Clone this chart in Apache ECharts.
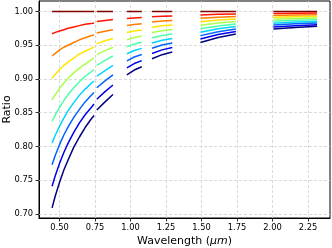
<!DOCTYPE html>
<html>
<head>
<meta charset="utf-8">
<script src="https://cdn.jsdelivr.net/npm/echarts@6/dist/echarts.min.js"></script>
<style>html,body{margin:0;padding:0;background:#fff}#c{width:332px;height:248px}</style>
</head>
<body>
<div id="c"></div>
<script>
// Wavelength samples (µm); entries where line values are null mark gaps between bands
const wavelengths = [0.447,0.47,0.50,0.53,0.56,0.60,0.64,0.68,0.72,0.743, 0.752,
  0.762,0.82,0.876, 0.92,
  0.974,1.026,1.079, 1.11,
  1.151,1.222,1.294, 1.40,
  1.492,1.617,1.742, 1.87,
  2.006,2.16,2.314];

const line0 = [1,1,1,1,1,1,1,1,1,1,null, 1,1,1,null, 1,1,1,null, 1,1,1,null, 1,1,1,null, 1,1,1];
const line1 = [0.967,0.969,0.971,0.973,0.975,0.977,0.979,0.981,0.982,0.983,null, 0.985,0.9867,0.988,null, 0.9896,0.9904,0.9909,null, 0.9922,0.9929,0.9933,null, 0.9949,0.9957,0.9963,null, 0.9971,0.9974,0.9976];
const line2 = [0.934,0.938,0.943,0.947,0.950,0.954,0.958,0.961,0.964,0.965,null, 0.968,0.9708,0.973,null, 0.9791,0.9807,0.9818,null, 0.9844,0.9858,0.9867,null, 0.9898,0.9915,0.9926,null, 0.9942,0.9948,0.9951];
const line3 = [0.901,0.907,0.914,0.920,0.925,0.931,0.937,0.941,0.945,0.948,null, 0.952,0.9565,0.960,null, 0.9687,0.9711,0.9727,null, 0.9767,0.9787,0.9800,null, 0.9847,0.9872,0.9888,null, 0.9913,0.9921,0.9927];
const line4 = [0.869,0.877,0.886,0.894,0.901,0.909,0.916,0.922,0.928,0.931,null, 0.936,0.942,0.947,null, 0.9582,0.9614,0.9636,null, 0.9689,0.9715,0.9733,null, 0.9796,0.9829,0.9851,null, 0.9884,0.9895,0.9902];
const line5 = [0.837,0.847,0.858,0.868,0.877,0.887,0.896,0.904,0.910,0.914,null, 0.920,0.9275,0.934,null, 0.9478,0.9518,0.9545,null, 0.9611,0.9645,0.9667,null, 0.9744,0.9786,0.9814,null, 0.9856,0.9869,0.9878];
const line6 = [0.805,0.817,0.830,0.842,0.853,0.865,0.876,0.885,0.893,0.897,null, 0.904,0.9125,0.920,null, 0.9373,0.9421,0.9453,null, 0.9533,0.9573,0.9600,null, 0.9693,0.9743,0.9777,null, 0.9827,0.9843,0.9853];
const line7 = [0.773,0.787,0.803,0.817,0.829,0.843,0.855,0.866,0.875,0.880,null, 0.887,0.8972,0.906,null, 0.9269,0.9325,0.9362,null, 0.9456,0.9502,0.9533,null, 0.9642,0.9701,0.9740,null, 0.9798,0.9817,0.9829];
const line8 = [0.741,0.757,0.775,0.791,0.805,0.821,0.835,0.847,0.857,0.863,null, 0.870,0.8812,0.891,null, 0.9164,0.9228,0.9271,null, 0.9378,0.9431,0.9467,null, 0.9591,0.9658,0.9702,null, 0.9769,0.9790,0.9804];
const line9 = [0.709,0.727,0.747,0.765,0.780,0.799,0.814,0.828,0.840,0.846,null, 0.854,0.866,0.877,null, 0.906,0.9132,0.918,null, 0.930,0.936,0.940,null, 0.954,0.9615,0.9665,null, 0.974,0.9764,0.978];

const lines = [line0,line1,line2,line3,line4,line5,line6,line7,line8,line9];
const colors = ['#800000','#ff1400','#ff7d00','#ffe600','#a9ff4e','#4effa9','#00d4ff','#0063ff','#0000f1','#000080'];

const xTicks = [0.50,0.75,1.00,1.25,1.50,1.75,2.00,2.25];
const yTicks = [0.70,0.75,0.80,0.85,0.90,0.95,1.00];

const chart = echarts.init(document.getElementById('c'), null, {renderer:'canvas'});
const font = 'DejaVu Sans';
const gridStyle = {color: '#d0d0d0', width: 0.8, type: [3, 2]};
chart.setOption({
  animation: false,
  backgroundColor: '#fff',
  grid: {left: 39, right: 2, top: 1, bottom: 30, containLabel: false, outerBoundsMode: 'none',
    show: true, borderColor: '#000', borderWidth: 1, backgroundColor: 'transparent'},
  xAxis: {
    type: 'value', min: 0.355, max: 2.405,
    name: '{a|Wavelength (}{b|μm}{a|)}', nameLocation: 'middle', nameGap: 18, nameMoveOverlap: false,
    nameTextStyle: {rich: {a: {fontFamily: font, fontSize: 11, color: '#000'}, b: {fontFamily: font, fontSize: 11, fontStyle: 'italic', color: '#000'}}},
    axisLine: {show: true, onZero: false, lineStyle: {color: '#000', width: 1}},
    axisTick: {show: true, inside: false, length: 3.5, customValues: xTicks, lineStyle: {color: '#000', width: 0.8}},
    axisLabel: {show: true, margin: 6, fontFamily: font, fontSize: 8.3, color: '#000', customValues: xTicks,
      formatter: v => v.toFixed(2)},
    splitLine: {show: false}
  },
  yAxis: {
    type: 'value', min: 0.694, max: 1.0155,
    name: 'Ratio', nameLocation: 'middle', nameGap: 26, nameRotate: 90, nameMoveOverlap: false,
    nameTextStyle: {fontFamily: font, fontSize: 11, color: '#000', padding: 0},
    axisLine: {show: true, onZero: false, lineStyle: {color: '#000', width: 1}},
    axisTick: {show: true, inside: false, length: 3.5, customValues: yTicks, lineStyle: {color: '#000', width: 0.8}},
    axisLabel: {show: true, margin: 6, fontFamily: font, fontSize: 8.3, color: '#000', customValues: yTicks,
      formatter: v => v.toFixed(2)},
    splitLine: {show: false}
  },
  series: [{
    type: 'line', data: [], silent: true, z: 1,
    markLine: {
      silent: true, symbol: 'none', label: {show: false}, animation: false, z: 1,
      lineStyle: gridStyle,
      data: xTicks.map(v => ({xAxis: v})).concat(yTicks.map(v => ({yAxis: v})))
    }
  }].concat(lines.map((vals, i) => ({
    type: 'line',
    data: wavelengths.map((x, k) => [x, vals[k] === null ? '-' : vals[k]]),
    showSymbol: false, symbol: 'none', connectNulls: false, smooth: false,
    lineStyle: {color: colors[i], width: 1.5}, itemStyle: {color: colors[i]},
    silent: true, z: 2 + i
  })))
});
</script>
</body>
</html>
